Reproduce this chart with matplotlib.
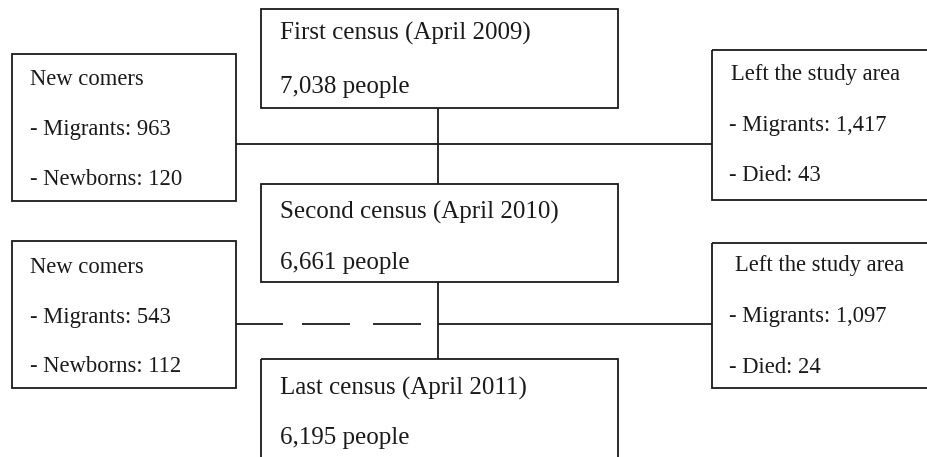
import matplotlib
matplotlib.use("Agg")
import matplotlib.pyplot as plt
from matplotlib.patches import Rectangle

# ---- data ----
census_titles = ["First census (April 2009)", "Second census (April 2010)", "Last census (April 2011)"]
census_counts = [7038, 6661, 6195]
newcomer_migrants = [963, 543]
newcomer_newborns = [120, 112]
left_migrants = [1417, 1097]
left_died = [43, 24]

W, H = 927, 457
fig = plt.figure(figsize=(W / 100, H / 100), dpi=100)
ax = fig.add_axes([0, 0, 1, 1])
ax.set_xlim(0, W)
ax.set_ylim(H, 0)
ax.axis("off")

BIG = dict(family="Liberation Serif", fontsize=18, color="#1a1a1a", va="baseline")
SMALL = dict(family="Liberation Serif", fontsize=16.3, color="#1a1a1a", va="baseline")
LW = 1.3
LC = "#1a1a1a"

def box(x0, y0, x1, y1):
    ax.add_patch(Rectangle((x0, y0), x1 - x0, y1 - y0, fill=False, lw=LW, ec=LC, clip_on=True))

def line(x0, y0, x1, y1, **kw):
    ax.plot([x0, x1], [y0, y1], color=LC, lw=LW, solid_capstyle="butt", **kw)

# census boxes
census_y = [(9, 108), (184, 282), (359, 470)]
census_base = [(40, 93), (219, 269), (395, 444)]
for (y0, y1), (b1, b2), title, cnt in zip(census_y, census_base, census_titles, census_counts):
    box(261, y0, 618, y1)
    ax.text(280, b1, title, **BIG)
    ax.text(280, b2, f"{cnt:,} people", **BIG)

# vertical connectors
line(438, 108, 438, 184)
line(438, 282, 438, 359)

# newcomers boxes
nc_y = [(54, 201), (241, 388)]
nc_base = [(85, 135, 185), (273, 323, 372)]
for (y0, y1), (b1, b2, b3), mig, nb in zip(nc_y, nc_base, newcomer_migrants, newcomer_newborns):
    box(12, y0, 236, y1)
    ax.text(30, b1, "New comers", **SMALL)
    ax.text(30, b2, f"- Migrants: {mig:,}", **SMALL)
    ax.text(30, b3, f"- Newborns: {nb:,}", **SMALL)

# left-area boxes
la_y = [(50, 200), (243, 388)]
la_base = [(80, 131, 181), (271, 322, 373)]
la_x = [(731, 729), (735, 729)]
for (y0, y1), (b1, b2, b3), (xa, xb), mig, d in zip(la_y, la_base, la_x, left_migrants, left_died):
    box(712, y0, 940, y1)
    ax.text(xa, b1, "Left the study area", **SMALL)
    ax.text(xb, b2, f"- Migrants: {mig:,}", **SMALL)
    ax.text(xb, b3, f"- Died: {d:,}", **SMALL)

# horizontal connectors
line(236, 144, 712, 144)
# dashed segment on left, solid on right
for xs, xe in [(236, 283), (302, 350), (373, 421)]:
    line(xs, 324, xe, 324)
line(438, 324, 712, 324)

fig.savefig("out.png", dpi=100)
